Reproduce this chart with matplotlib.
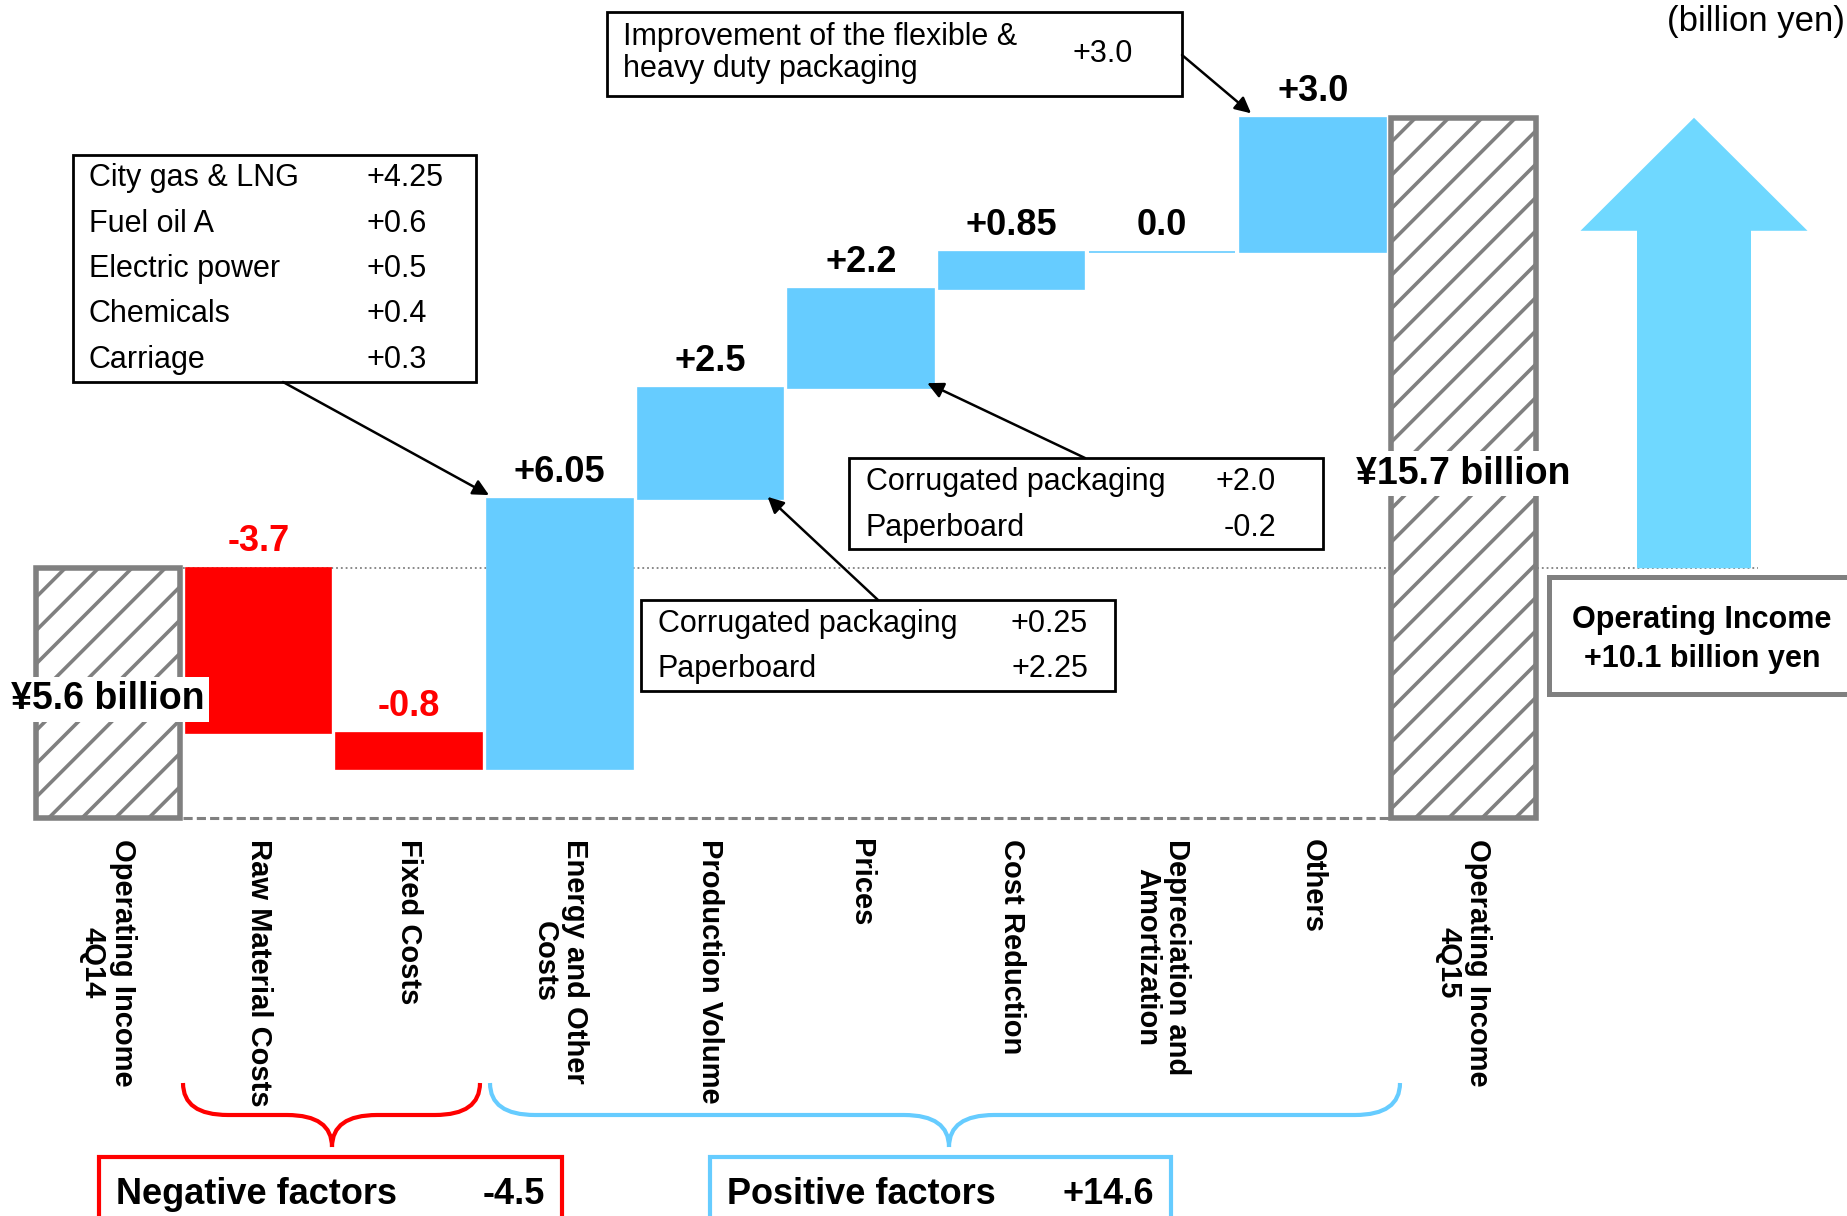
import matplotlib
matplotlib.use("Agg")
import matplotlib.pyplot as plt
from matplotlib.patches import Rectangle, FancyArrow, PathPatch
from matplotlib.path import Path

# ---------------- data ----------------
categories = ["Operating Income\n4Q14", "Raw Material Costs", "Fixed Costs",
              "Energy and Other\nCosts", "Production Volume", "Prices",
              "Cost Reduction", "Depreciation and\nAmortization", "Others",
              "Operating Income\n4Q15"]
start_value = 5.6
deltas = [-3.7, -0.8, 6.05, 2.5, 2.2, 0.85, 0.0, 3.0]
end_value = 15.7
delta_labels = ["-3.7", "-0.8", "+6.05", "+2.5", "+2.2", "+0.85", "0.0", "+3.0"]
total_labels = ["¥5.6 billion", "¥15.7 billion"]

energy_items = ["City gas & LNG", "Fuel oil A", "Electric power", "Chemicals", "Carriage"]
energy_values = ["+4.25", "+0.6", "+0.5", "+0.4", "+0.3"]
volume_items = ["Corrugated packaging", "Paperboard"]
volume_values = ["+0.25", "+2.25"]
price_items = ["Corrugated packaging", "Paperboard"]
price_values = ["+2.0", "-0.2"]
others_lines = ["Improvement of the flexible &", "heavy duty packaging"]
others_value = "+3.0"
negative_label = "Negative factors"
negative_total = "-4.5"
positive_label = "Positive factors"
positive_total = "+14.6"
change_lines = ["Operating Income", "+10.1 billion yen"]
unit_label = "(billion yen)"

# ---------------- style ----------------
BLUE = "#66CCFF"
ARROW_BLUE = "#6FD8FF"
RED = "#FF0000"
GRAY = "#808080"
plt.rcParams["font.family"] = ["Liberation Sans", "DejaVu Sans"]
plt.rcParams["hatch.linewidth"] = 2.6
plt.rcParams["hatch.color"] = GRAY

W, H = 1847, 1216
fig = plt.figure(figsize=(W / 100, H / 100), dpi=100)
ax = fig.add_axes([0, 0, 1, 1])
X0, XS, Y0, YS = 108.0, 150.6, 818.0, 44.6   # layout: pixel of x=0 / per category, baseline / per unit
ax.set_xlim(-X0 / XS, (W - X0) / XS)
ax.set_ylim((Y0 - H) / YS, Y0 / YS)
ax.axis("off")


def P(xp, yp):
    """figure pixel (from top-left) -> data coords"""
    return ((xp - X0) / XS, (Y0 - yp) / YS)


PX = 0.72  # points per pixel

# ---------------- waterfall ----------------
n = len(categories)
bw = 0.968
cum = [start_value]
for d in deltas:
    cum.append(cum[-1] + d)

# reference lines
ax.hlines(start_value, 0.5, P(1758, 0)[0], colors=GRAY, linestyles=":", lw=1.3, zorder=1)
ax.plot([0.5, n - 1 - 0.49], [0, 0], color=GRAY, lw=2.2, ls=(0, (3, 1.35)), zorder=1)

# totals (hatched)
ax.bar([0, n - 1], [start_value, end_value], width=0.962, facecolor="white",
       edgecolor=GRAY, hatch="/", lw=4, zorder=2)

# deltas
for i, d in enumerate(deltas):
    x = i + 1
    col = RED if d < 0 else BLUE
    ax.bar(x, d, bottom=cum[i], width=bw, color=col, edgecolor=col, lw=1.2, zorder=2)
    top = max(cum[i], cum[i + 1])
    ax.annotate(delta_labels[i], xy=(x, top), xytext=(0, 17 * PX), textcoords="offset points",
                ha="center", va="baseline", fontsize=26, fontweight="bold",
                color=RED if d < 0 else "black", zorder=5)

# total labels
for x, v, lab in [(0, start_value, total_labels[0]), (n - 1, end_value, total_labels[1])]:
    ax.annotate(lab, xy=(x, v / 2), xytext=(0, -16 * PX), textcoords="offset points",
                ha="center", va="baseline", fontsize=27, fontweight="bold", zorder=6,
                bbox=dict(boxstyle="square,pad=0.12", fc="white", ec="none"))

# category labels
for i, c in enumerate(categories):
    ax.annotate(c, xy=(i, 0), xytext=(0, -21 * PX), textcoords="offset points",
                rotation=270, ha="center", va="top", multialignment="center",
                fontsize=21, fontweight="bold", linespacing=1.1)

# big arrow
ax_x = P(1694, 0)[0]
ax.add_patch(FancyArrow(ax_x, start_value, 0, end_value - start_value, width=114 / XS,
                        head_width=227 / XS, head_length=113 / YS,
                        length_includes_head=True, color=ARROW_BLUE, lw=0, zorder=2))

# operating income change box
(bx0, by0), (bx1, by1) = P(1549, 694), P(1900, 577)
ax.add_patch(Rectangle((bx0, by0), bx1 - bx0, by1 - by0, fc="white", ec=GRAY, lw=3.6, zorder=3))
for line, yb in zip(change_lines, [628, 667]):
    ax.text(*P(1702, yb), line, ha="center", va="baseline", fontsize=22, fontweight="bold", zorder=4)

# unit
ax.text(*P(1667, 31), unit_label, ha="left", va="baseline", fontsize=25)


# ---------------- callout boxes ----------------
def box(xl, yt, xr, yb):
    (x0, y0), (x1, y1) = P(xl, yb), P(xr, yt)
    ax.add_patch(Rectangle((x0, y0), x1 - x0, y1 - y0, fc="white", ec="black", lw=2.0, zorder=3))


def arrow(start_px, tip):
    ax.annotate("", xy=tip, xytext=P(*start_px),
                arrowprops=dict(arrowstyle="-|>", color="black", lw=1.8, mutation_scale=24,
                                shrinkA=0, shrinkB=0), zorder=4)


# energy box
box(73, 155, 476, 382)
for k, (it, v) in enumerate(zip(energy_items, energy_values)):
    yb = 186 + k * 45.5
    ax.text(*P(89, yb), it, ha="left", va="baseline", fontsize=22, zorder=4)
    ax.text(*P(366, yb), v, ha="left", va="baseline", fontsize=22, zorder=4)
arrow((283, 382), (3 - 0.47, cum[3] + 0.09))

# production volume box
box(641, 600, 1115, 691)
for k, (it, v) in enumerate(zip(volume_items, volume_values)):
    yb = 632 + k * 45
    ax.text(*P(658, yb), it, ha="left", va="baseline", fontsize=22, zorder=4)
    ax.text(*P(1088, yb), v, ha="right", va="baseline", fontsize=22, zorder=4)
arrow((878, 600), (4 + 0.38, cum[3] + 0.05))

# prices box
box(849, 458, 1323, 549)
for k, (it, v) in enumerate(zip(price_items, price_values)):
    yb = 490 + k * 46
    ax.text(*P(866, yb), it, ha="left", va="baseline", fontsize=22, zorder=4)
    ax.text(*P(1276, yb), v, ha="right", va="baseline", fontsize=22, zorder=4)
arrow((1085, 458), (5 + 0.44, cum[4] + 0.1))

# others box
box(607, 12, 1182, 96)
for k, line in enumerate(others_lines):
    ax.text(*P(623, 45 + k * 32), line, ha="left", va="baseline", fontsize=22, zorder=4)
ax.text(*P(1072, 62), others_value, ha="left", va="baseline", fontsize=22, zorder=4)
arrow((1182, 55), (8 - 0.41, cum[8] + 0.1))


# ---------------- braces ----------------
def brace(x0p, x1p, xtp, ytop, ymid, ytip, color, r=45):
    pts = [(x0p, ytop), (x0p, ymid), (x0p + r, ymid), (xtp - r, ymid), (xtp, ymid), (xtp, ytip),
           (x1p, ytop), (x1p, ymid), (x1p - r, ymid), (xtp + r, ymid), (xtp, ymid), (xtp, ytip)]
    codes = [Path.MOVETO, Path.CURVE3, Path.CURVE3, Path.LINETO, Path.CURVE3, Path.CURVE3] * 2
    verts = [P(*p) for p in pts]
    ax.add_patch(PathPatch(Path(verts, codes), fill=False, ec=color, lw=3.0, capstyle="butt"))


brace(183, 480, 332, 1083, 1115, 1147, RED)
brace(490, 1400, 949, 1083, 1115, 1147, BLUE)

# summary boxes
for (xl, xr, col, lab, tot) in [(99, 562, RED, negative_label, negative_total),
                                 (710, 1171, BLUE, positive_label, positive_total)]:
    (x0, y0), (x1, y1) = P(xl, 1250), P(xr, 1157)
    ax.add_patch(Rectangle((x0, y0), x1 - x0, y1 - y0, fc="white", ec=col, lw=3.0, zorder=3))
    ax.text(*P(xl + 17, 1204), lab, ha="left", va="baseline", fontsize=26, fontweight="bold", zorder=4)
    ax.text(*P(xr - 17, 1204), tot, ha="right", va="baseline", fontsize=26, fontweight="bold", zorder=4)

fig.savefig("out.png", dpi=100)
